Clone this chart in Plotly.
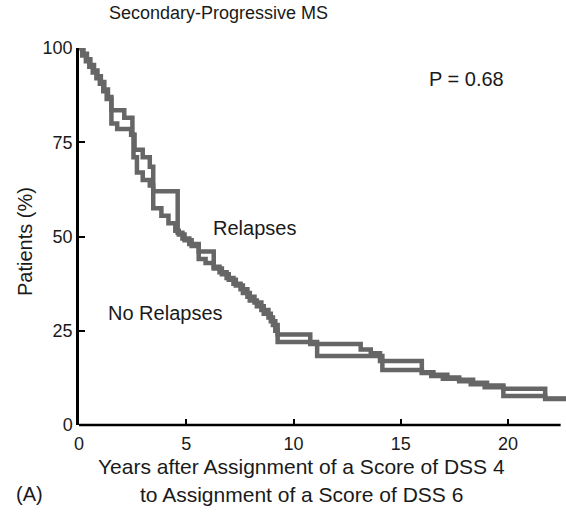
import plotly.graph_objects as go

# Kaplan-Meier style step curves (years, % patients)
relapses_years = [0, 0.21, 0.37, 0.53, 0.70, 0.86, 1.02, 1.18, 1.35, 1.51, 2.11, 2.49, 2.59, 2.97,
                  3.30, 3.46, 4.60, 4.82, 5.14, 5.58, 6.28, 6.55, 6.88, 7.20, 7.53, 7.85, 8.18,
                  8.50, 8.83, 9.04, 9.26, 10.78, 13.13, 13.60, 14.03, 15.98, 16.52, 17.17, 17.72,
                  18.37, 19.02, 19.78, 21.73, 22.8]
relapses_pct = [100, 98.5, 97, 95.5, 94, 92.5, 91, 89, 87, 83.5, 81.5, 77, 73, 71,
                68.5, 62, 51, 49.5, 48, 46, 42, 40.5, 39, 37.5, 36, 34, 32.5,
                30.5, 28.5, 26.5, 24, 21.5, 20, 19, 17, 14, 13.3, 12.6, 12,
                11.2, 10.5, 9.6, 7.0, 7.0]

norelapses_years = [0, 0.15, 0.32, 0.48, 0.64, 0.81, 0.97, 1.13, 1.29, 1.51, 1.78, 2.43, 2.54,
                    2.70, 2.97, 3.30, 3.46, 3.84, 4.17, 4.49, 4.65, 4.92, 5.25, 5.58, 5.90, 6.28,
                    6.66, 6.98, 7.31, 7.64, 7.96, 8.29, 8.61, 8.94, 9.15, 9.26, 11.10, 14.14,
                    15.98, 16.42, 16.96, 17.72, 18.26, 18.91, 19.78, 21.73, 22.8]
norelapses_pct = [100, 98, 96.5, 95, 93.5, 92, 90.5, 88.5, 86.5, 80, 78.5, 77, 71,
                  67, 65, 63.5, 57.5, 55.5, 53.5, 51.5, 50.5, 49, 47.5, 44, 43, 41.5,
                  40, 38.5, 37, 35, 33, 31.5, 29.5, 27.5, 25, 22, 18.3, 14.6,
                  13.8, 13, 12.3, 11.6, 10.8, 10, 7.7, 6.9, 6.9]

x_ticks = [0, 5, 10, 15, 20]
y_ticks = [0, 25, 50, 75, 100]

FONT = "Liberation Sans, Arial, Helvetica, sans-serif"
LINE = "#666666"
TXT = "#1a1a1a"

fig = go.Figure()
for xs, ys, nm in [(relapses_years, relapses_pct, "Relapses"),
                   (norelapses_years, norelapses_pct, "No Relapses")]:
    fig.add_trace(go.Scatter(x=xs, y=ys, mode="lines", name=nm,
                             line=dict(color=LINE, width=4.5, shape="hv"),
                             showlegend=False, hoverinfo="skip"))

W, H = 566, 515
L, R, T, B = 79, 0, 48, 90
pw, ph = W - L - R, H - T - B

def px(xp):
    return (xp - L) / pw

def py(yp):
    return (H - B - yp) / ph

fig.update_layout(
    width=W, height=H,
    margin=dict(l=L, r=R, t=T, b=B, pad=0),
    paper_bgcolor="white", plot_bgcolor="white",
    font=dict(family=FONT, size=18, color=TXT),
    xaxis=dict(range=[0, 22.7], tickvals=x_ticks, ticktext=[str(v) for v in x_ticks],
               ticks="inside", ticklen=6, tickwidth=2, tickcolor="black",
               showline=False, showgrid=False, zeroline=False,
               ticklabelstandoff=6,
               tickfont=dict(size=18, color=TXT)),
    yaxis=dict(range=[0, 100], tickvals=y_ticks, ticktext=[str(v) for v in y_ticks],
               ticks="inside", ticklen=6, tickwidth=2, tickcolor="black",
               showline=True, linecolor="black", linewidth=2.5,
               showgrid=False, zeroline=False,
               tickfont=dict(size=18, color=TXT)),
    shapes=[dict(type="line", xref="x", yref="paper", x0=0, x1=22.45, y0=0, y1=0,
                 line=dict(color="black", width=2.5))],
)

ann = [
    dict(text="Secondary-Progressive MS", x=px(107), y=py(13), xanchor="left", yanchor="middle",
         size=18),
    dict(text="Patients (%)", x=px(25), y=py(242), xanchor="center", yanchor="middle",
         textangle=-90, size=20),
    dict(text="Years after Assignment of a Score of DSS 4", x=px(301), y=py(466),
         xanchor="center", yanchor="middle", size=21),
    dict(text="to Assignment of a Score of DSS 6", x=px(301), y=py(494),
         xanchor="center", yanchor="middle", size=21),
    dict(text="(A)", x=px(14), y=py(494), xanchor="left", yanchor="middle", size=20),
    dict(text="Relapses", x=px(211), y=py(228), xanchor="left", yanchor="middle", size=20),
    dict(text="No Relapses", x=px(225), y=py(313), xanchor="right", yanchor="middle", size=20),
    dict(text="P = 0.68", x=px(466), y=py(79), xanchor="center", yanchor="middle", size=20),
]
for a in ann:
    sz = a.pop("size")
    a.update(xref="paper", yref="paper", showarrow=False,
             font=dict(family=FONT, size=sz, color=TXT))
fig.update_layout(annotations=ann)

fig.write_html("out.html",
               config={"displayModeBar": False},
               post_script="document.body.style.margin='0px';document.body.style.padding='0px';")
